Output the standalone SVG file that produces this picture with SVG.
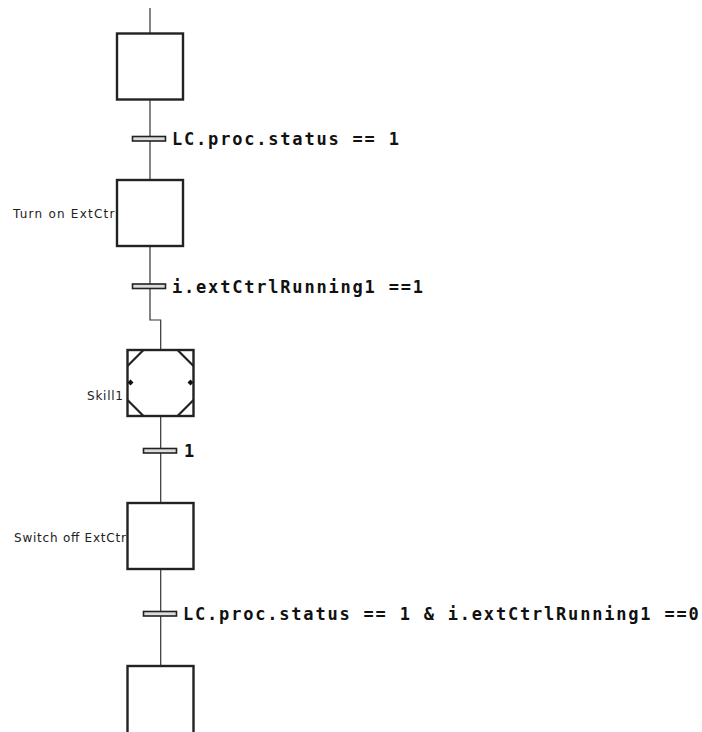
<svg xmlns="http://www.w3.org/2000/svg" width="702" height="732" viewBox="0 0 702 732">
  <style>
    .wire { fill: none; stroke: #333; stroke-width: 1.2; }
    .step { fill: #fff; stroke: #222; stroke-width: 2.4; }
    .corner { fill: none; stroke: #222; stroke-width: 2.2; }
    .bar { fill: #dcdcdc; stroke: #222; stroke-width: 1.6; }
    .cond { font-family: "DejaVu Sans Mono", "Liberation Mono", monospace; font-size: 17px; font-weight: bold; fill: #111; letter-spacing: 1.8px; }
    .name { font-family: "DejaVu Sans", "Liberation Sans", sans-serif; font-size: 12px; fill: #222; text-anchor: end; }
  </style>

  <!-- flow line -->
  <g id="connectors">
    <path class="wire" d="M150 8 V33"/>
    <path class="wire" d="M150 99 V180"/>
    <path class="wire" d="M150 246 V320 H160.7 V350"/>
    <path class="wire" d="M160.7 416 V503"/>
    <path class="wire" d="M160.7 569 V666"/>
  </g>

  <!-- steps -->
  <g id="step1">
    <rect class="step" x="117" y="33.5" width="66" height="66"/>
  </g>

  <g id="step2">
    <text class="name" x="119" y="217.5" textLength="106" lengthAdjust="spacing">Turn on ExtCtrl</text>
    <rect class="step" x="117" y="180" width="66" height="66"/>
  </g>

  <g id="skill1">
    <rect class="step" x="127.5" y="350" width="66" height="66"/>
    <path class="corner" d="M143.5 350 L127.5 366 M177.5 350 L193.5 366 M127.5 400 L143.5 416 M193.5 400 L177.5 416"/>
    <path d="M127.5 382.5 L130.5 379.5 L133.5 382.5 L130.5 385.5 Z" fill="#111"/>
    <path d="M187.5 382.5 L190.5 379.5 L193.5 382.5 L190.5 385.5 Z" fill="#111"/>
    <text class="name" x="123" y="399.5" textLength="36" lengthAdjust="spacing">Skill1</text>
  </g>

  <g id="step4">
    <text class="name" x="130" y="542" textLength="116" lengthAdjust="spacing">Switch off ExtCtrl</text>
    <rect class="step" x="127.5" y="503" width="66" height="66"/>
  </g>

  <g id="step5">
    <rect class="step" x="127.5" y="666" width="66" height="80"/>
  </g>

  <!-- transitions -->
  <g id="transition1">
    <rect class="bar" x="132.5" y="136.5" width="33" height="4.5"/>
    <text class="cond" x="172" y="145">LC.proc.status == 1</text>
  </g>

  <g id="transition2">
    <rect class="bar" x="132.5" y="284" width="33" height="4.5"/>
    <text class="cond" x="172" y="292.5">i.extCtrlRunning1 ==1</text>
  </g>

  <g id="transition3">
    <rect class="bar" x="143.5" y="448.5" width="33" height="4.5"/>
    <text class="cond" x="184" y="457">1</text>
  </g>

  <g id="transition4">
    <rect class="bar" x="143.5" y="611.5" width="33" height="4.5"/>
    <text class="cond" x="183" y="620">LC.proc.status == 1 &amp; i.extCtrlRunning1 ==0</text>
  </g>
</svg>
